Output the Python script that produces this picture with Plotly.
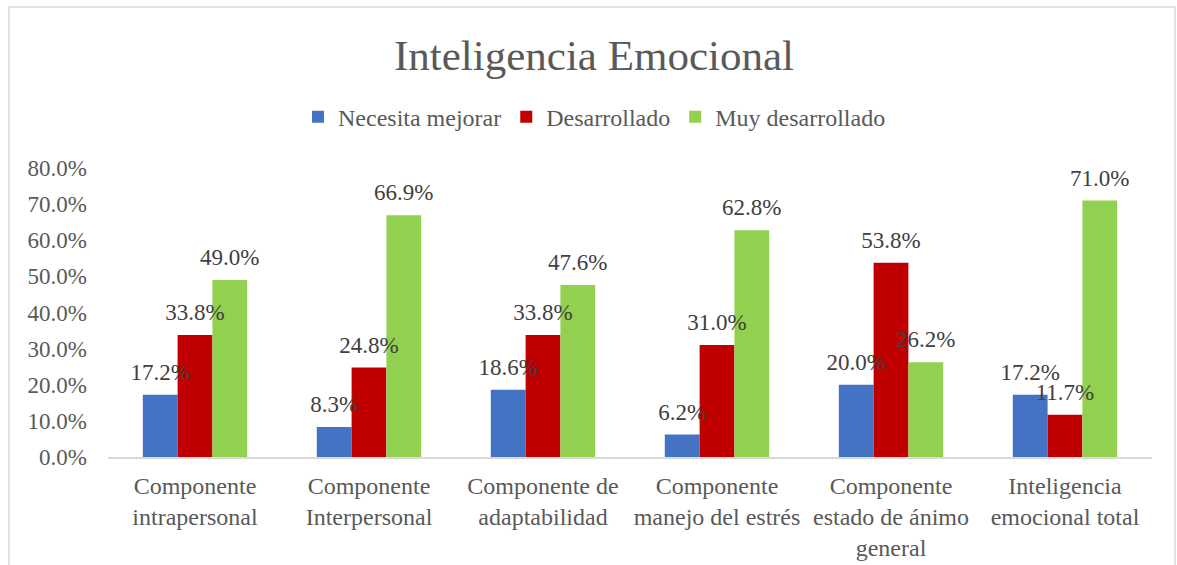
import plotly.graph_objects as go

categories = [
    "Componente<br>intrapersonal",
    "Componente<br>Interpersonal",
    "Componente de<br>adaptabilidad",
    "Componente<br>manejo del estrés",
    "Componente<br>estado de ánimo<br>general",
    "Inteligencia<br>emocional total",
]
necesita_mejorar = [0.172, 0.083, 0.186, 0.062, 0.200, 0.172]
desarrollado = [0.338, 0.248, 0.338, 0.310, 0.538, 0.117]
muy_desarrollado = [0.490, 0.669, 0.476, 0.628, 0.262, 0.710]
y_ticks = [0.0, 0.1, 0.2, 0.3, 0.4, 0.5, 0.6, 0.7, 0.8]

series = [
    ("Necesita mejorar", necesita_mejorar, "#4472C4"),
    ("Desarrollado", desarrollado, "#C00000"),
    ("Muy desarrollado", muy_desarrollado, "#92D050"),
]

FONT = "Liberation Serif"
fig = go.Figure()
for name, vals, color in series:
    fig.add_trace(go.Bar(
        x=categories, y=vals, name=name,
        marker=dict(color=color, line=dict(width=0)),
        cliponaxis=False,
    ))
for name, vals, color in series:
    fig.add_trace(go.Scatter(
        x=categories, y=vals, name=name + " etiqueta", showlegend=False,
        mode="markers+text", marker=dict(size=13, opacity=0, color=color),
        texttemplate="%{y:.1%}", textposition="top center",
        textfont=dict(family=FONT, size=23, color="#404040"),
        hoverinfo="skip", cliponaxis=False,
    ))

fig.update_layout(
    width=1177, height=565,
    paper_bgcolor="white", plot_bgcolor="white",
    margin=dict(l=108, r=25, t=168, b=108, autoexpand=False),
    barmode="group", bargap=0.4, bargroupgap=0,
    scattermode="group", scattergap=0.4,
    font=dict(family=FONT, color="#595959"),
    title=dict(text="Inteligencia Emocional", x=594 / 1177, xanchor="center",
               y=1 - 55 / 565, yanchor="middle",
               font=dict(family=FONT, size=43, color="#595959")),
    legend=dict(orientation="h", x=0.466, xanchor="center", y=1.176, yanchor="middle",
                font=dict(family=FONT, size=24, color="#595959"),
                itemwidth=30, traceorder="normal"),
)
fig.update_yaxes(range=[0, 0.8], tickvals=y_ticks, tickformat=".1%",
                 showgrid=False, zeroline=False, showline=False, automargin=False,
                 ticks="", ticklabelstandoff=20,
                 tickfont=dict(family=FONT, size=23, color="#595959"))
fig.update_xaxes(showline=True, linecolor="#D9D9D9", linewidth=2, automargin=False,
                 showgrid=False, ticks="", ticklabelstandoff=6,
                 tickfont=dict(family=FONT, size=24, color="#595959"))
fig.add_shape(type="rect", xref="paper", yref="paper",
              x0=-0.0948, x1=1.022, y0=-0.40, y1=1.557,
              line=dict(color="#D9D9D9", width=1.5), layer="below")
fig.write_html("out.html", config={"displayModeBar": False},
               post_script="document.body.style.margin='0';")
